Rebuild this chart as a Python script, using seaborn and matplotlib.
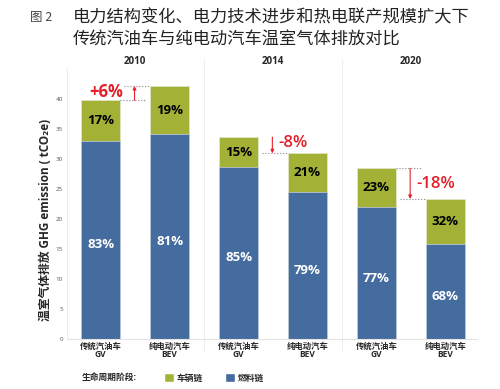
import pandas as pd
import matplotlib.pyplot as plt
import seaborn as sns
from matplotlib.patches import Patch

# data (tCO2e)
years = ['2010', '2014', '2020']
vehicles = ['传统汽油车\nGV', '纯电动汽车\nBEV']
bar_keys = ['GV-2010', 'BEV-2010', 'GV-2014', 'BEV-2014', 'GV-2020', 'BEV-2020']
tick_labels = vehicles * 3
fuel_chain = [33.0, 34.1, 28.6, 24.4, 21.9, 15.8]
vehicle_chain = [6.7, 8.0, 5.0, 6.5, 6.5, 7.5]
vehicle_pct = ['17%', '19%', '15%', '21%', '23%', '32%']
fuel_pct = ['83%', '81%', '85%', '79%', '77%', '68%']
change_labels = ['+6%', '-8%', '-18%']

GREEN = '#a3b236'
BLUE = '#456c9f'
RED = '#e3202b'

sns.set_style('white')
plt.rcParams['font.family'] = ['Open Sans', 'Noto Sans CJK SC', 'DejaVu Sans']

df = pd.DataFrame({'key': bar_keys, 'fuel': fuel_chain, 'vehicle': vehicle_chain})
df['total'] = df['fuel'] + df['vehicle']

fig = plt.figure(figsize=(5, 3.89), dpi=100)
ax = fig.add_axes([0.134, 0.1285, 0.82, 0.6953])

# stacked bars: total (green) first, fuel chain (blue) over it
sns.barplot(data=df, x='key', y='total', order=bar_keys, color=GREEN, saturation=1,
            width=0.565, edgecolor='#e4e8d0', linewidth=0.5, ax=ax)
sns.barplot(data=df, x='key', y='fuel', order=bar_keys, color=BLUE, saturation=1,
            width=0.565, edgecolor='#c5d0e2', linewidth=0.5, ax=ax)

ax.set_xlim(-0.49, 5.46)
ax.set_ylim(0, 45)
ax.set_yticks(range(0, 45, 5))
ax.tick_params(axis='y', labelsize=4.5, labelcolor='#555', length=0, pad=3)
ax.tick_params(axis='x', length=0, pad=2)
ax.set_xticks(range(6))
ax.set_xticklabels(tick_labels, fontsize=6, fontweight='bold', linespacing=0.95)
ax.set_xlabel('')
ax.set_ylabel('温室气体排放 GHG emission ( tCO₂e)', fontsize=8.5, fontweight='bold')
ax.yaxis.set_label_coords(-0.037, 0.44)
for s in ['top', 'right']:
    ax.spines[s].set_visible(False)
ax.spines['left'].set_color('#ececec')
ax.spines['bottom'].set_color('#e3e3e3')
ax.spines['left'].set_linewidth(0.8)
ax.spines['bottom'].set_linewidth(0.8)

# group separators and year headings
for i, yr in enumerate(years):
    ax.text(2 * i + 0.5, 46.2, yr, ha='center', va='center', fontsize=7,
            fontweight='bold', clip_on=False)
for xs in [1.5, 3.5]:
    ax.plot([xs, xs], [-2.2, 46.5], color='#eeeeee', lw=0.8, clip_on=False, zorder=0)

# segment labels
for i, row in df.iterrows():
    ax.text(i, (row['fuel'] + row['total']) / 2, vehicle_pct[i], ha='center', va='center',
            fontsize=9.5, fontweight='bold', color='black')
    ax.text(i, row['fuel'] / 2 - 0.8, fuel_pct[i], ha='center', va='center',
            fontsize=9.5, fontweight='bold', color='white')

# change annotations between GV and BEV in each year
for g in range(3):
    gv = df['total'][2 * g]
    bev = df['total'][2 * g + 1]
    xa = 2 * g + 0.49
    if g != 1:
        ax.plot([2 * g + 0.28, 2 * g + 0.65], [gv, gv], color='#888', lw=0.8, ls=':')
    ax.plot([2 * g + 0.34, 2 * g + 0.71], [bev, bev], color='#888', lw=0.8, ls=':')
    ax.annotate('', xy=(xa, bev), xytext=(xa, gv),
                arrowprops=dict(arrowstyle='-|>', color=RED, lw=0.8,
                                mutation_scale=5, shrinkA=0, shrinkB=0))
    if g == 0:
        ax.text(2 * g + 0.08, bev - 1.0, change_labels[g], ha='center', va='center',
                fontsize=12, fontweight='bold', color=RED)
    else:
        ax.text(xa + 0.09, (gv + bev) / 2 + (0.3 if g == 1 else 0), change_labels[g],
                ha='left', va='center', fontsize=12, fontweight='semibold', color=RED)

# title
fig.text(0.06, 1 - 17 / 389, '图 2', fontsize=9, color='#444', va='center',
         family=['Noto Sans CJK SC', 'DejaVu Sans'])
fig.text(0.146, 1 - 17 / 389, '电力结构变化、电力技术进步和热电联产规模扩大下', fontsize=12.4,
         color='#222', va='center', family=['Noto Sans CJK SC', 'DejaVu Sans'])
fig.text(0.146, 1 - 40 / 389, '传统汽油车与纯电动汽车温室气体排放对比', fontsize=12.4,
         color='#222', va='center', family=['Noto Sans CJK SC', 'DejaVu Sans'])

# legend
fig.text(82 / 500, 1 - 378 / 389, '生命周期阶段:', fontsize=6.3, fontweight='bold',
         va='center', ha='left')
handles = [Patch(facecolor=GREEN, label='车辆链'), Patch(facecolor=BLUE, label='燃料链')]
leg = fig.legend(handles=handles, loc='center left', bbox_to_anchor=(164 / 500, 1 - 378 / 389),
                 ncol=2, frameon=False, handlelength=1.15, handleheight=1.15,
                 handletextpad=0.25, columnspacing=2.6, borderpad=0, borderaxespad=0,
                 prop={'size': 6.3, 'weight': 'bold'})

fig.savefig('out.png', dpi=100)
